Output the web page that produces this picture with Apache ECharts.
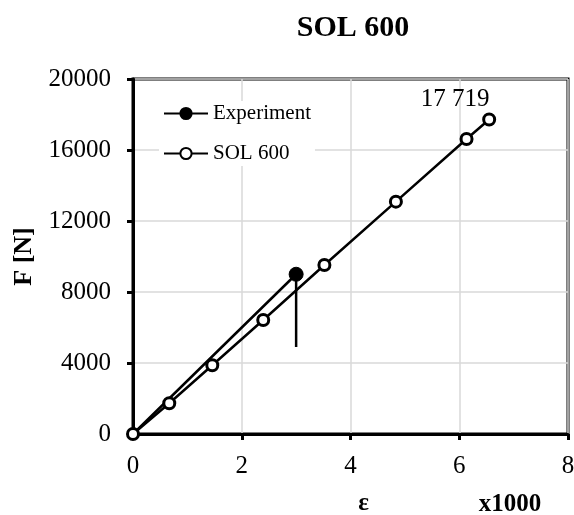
<!DOCTYPE html>
<html>
<head>
<meta charset="utf-8">
<script src="https://cdn.jsdelivr.net/npm/echarts@6/dist/echarts.min.js"></script>
<style>
  html, body { margin: 0; padding: 0; background: #fff; }
  #chart { width: 574px; height: 515px; }
</style>
</head>
<body>
<div id="chart"></div>
<script>
// Strain (x1000) vs force for the simulation run
const solStrain = [0, 0.667, 1.458, 2.395, 3.52, 4.835, 6.134, 6.55];
const solForce = [0, 1730, 3870, 6420, 9520, 13090, 16620, 17719];

// Measured curve: loading up to the peak, then the drop
const expStrain = [0, 3.0, 3.0];
const expForce = [0, 9000, 4900];

const xTicks = { min: 0, max: 8, step: 2 };
const yTicks = { min: 0, max: 20000, step: 4000 };

const FONT = '"Liberation Serif", "Times New Roman", serif';

const solData = solStrain.map((x, i) => {
  const item = { value: [x, solForce[i]] };
  if (i === solStrain.length - 1) {
    item.label = {
      show: true,
      position: 'top',
      offset: [-34, 4],
      formatter: p => String(p.value[1]).replace(/\B(?=(\d{3})+(?!\d))/g, ' '),
      fontFamily: FONT,
      fontSize: 25,
      color: '#000'
    };
  }
  return item;
});

const expData = expStrain.map((x, i) => {
  const item = { value: [x, expForce[i]] };
  if (i !== 1) item.symbol = 'none';
  return item;
});

const chart = echarts.init(document.getElementById('chart'));
chart.setOption({
  animation: false,
  backgroundColor: '#fff',
  title: [
    {
      text: 'SOL 600',
      left: 348,
      top: 8,
      textAlign: 'center',
      textStyle: { fontFamily: FONT, fontSize: 30, fontWeight: 'bold', color: '#000' }
    },
    {
      text: 'x1000',
      left: 505,
      top: 487,
      textAlign: 'center',
      textStyle: { fontFamily: FONT, fontSize: 25, fontWeight: 'bold', color: '#000' }
    }
  ],
  grid: {
    left: 133, right: 6, top: 79, bottom: 81,
    outerBoundsMode: 'none',
    containLabel: false,
    show: true, borderColor: '#000', borderWidth: 3, backgroundColor: 'transparent'
  },
  legend: {
    left: 159,
    top: 101,
    orient: 'vertical',
    itemWidth: 44,
    itemHeight: 14,
    itemGap: 19,
    backgroundColor: '#fff',
    padding: [2, 4, 2, 4],
    textStyle: { fontFamily: FONT, fontSize: 21, color: '#000' },
    data: ['Experiment', 'SOL 600']
  },
  xAxis: {
    type: 'value',
    min: xTicks.min, max: xTicks.max, interval: xTicks.step,
    name: 'ε',
    nameLocation: 'middle',
    nameGap: 57,
    nameTextStyle: { fontFamily: FONT, fontSize: 25, fontWeight: 'bold', color: '#000', padding: [0, 0, 0, 26] },
    axisLine: { onZero: false, lineStyle: { color: '#000', width: 3 } },
    axisTick: { show: true, inside: false, length: 6, lineStyle: { color: '#000', width: 3 } },
    axisLabel: { fontFamily: FONT, fontSize: 25, color: '#000', margin: 20 },
    splitLine: { show: true, lineStyle: { color: '#d9d9d9', width: 1.5 } }
  },
  yAxis: {
    type: 'value',
    min: yTicks.min, max: yTicks.max, interval: yTicks.step,
    name: 'F [N]',
    nameLocation: 'middle',
    nameGap: 96,
    nameRotate: 90,
    nameTextStyle: { fontFamily: FONT, fontSize: 26, fontWeight: 'bold', color: '#000' },
    axisLine: { onZero: false, lineStyle: { color: '#000', width: 3 } },
    axisTick: { show: true, inside: false, length: 6, lineStyle: { color: '#000', width: 3 } },
    axisLabel: { fontFamily: FONT, fontSize: 25, color: '#000', margin: 22, formatter: v => String(v) },
    splitLine: { show: true, lineStyle: { color: '#d9d9d9', width: 1.5 } }
  },
  series: [
    {
      name: 'Experiment',
      type: 'line',
      data: expData,
      symbol: 'circle',
      symbolSize: 14,
      showSymbol: true,
      lineStyle: { color: '#000', width: 2.5 },
      itemStyle: { color: '#000', borderColor: '#000', borderWidth: 1 },
      z: 2
    },
    {
      name: 'SOL 600',
      type: 'line',
      data: solData,
      symbol: 'circle',
      symbolSize: 11,
      lineStyle: { color: '#000', width: 2.5 },
      itemStyle: { color: '#fff', borderColor: '#000', borderWidth: 3 },
      z: 3
    }
  ]
});
</script>
</body>
</html>
